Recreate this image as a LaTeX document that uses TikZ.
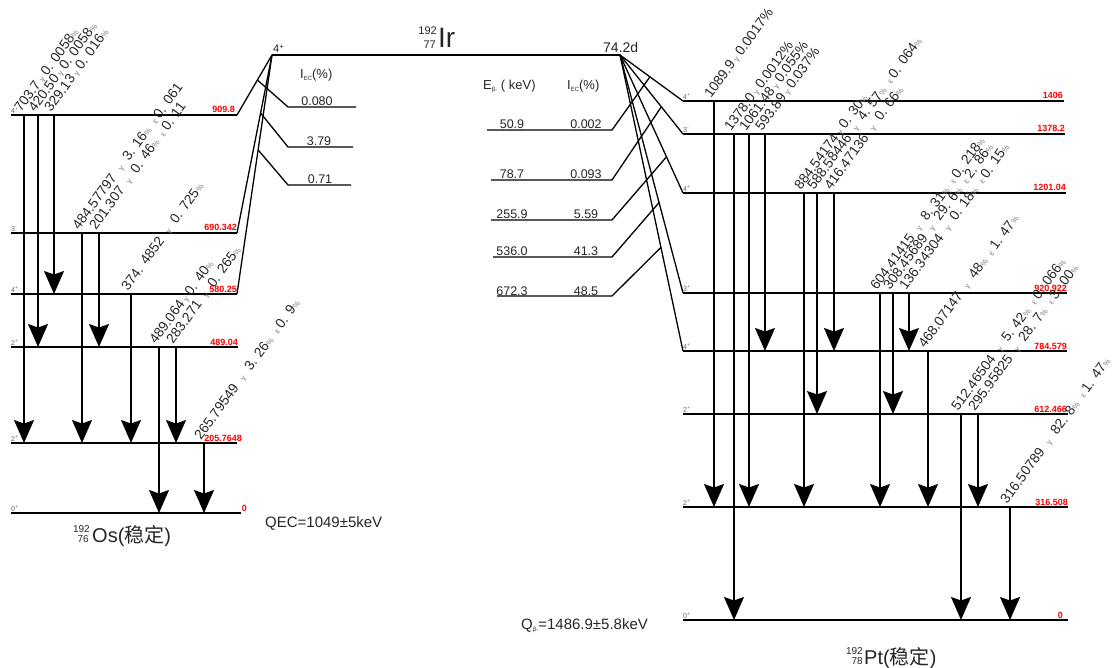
\documentclass[tikz,border=0pt]{standalone}
\usepackage{fontspec}
\setmainfont{Liberation Sans}
\newfontfamily\cjk{Noto Sans CJK SC}
\usetikzlibrary{arrows.meta,calc}
\newcommand\fsz[1]{\fontsize{#1}{#1}\selectfont}
\newcommand\gfnt{\color{black!50}\fsz{8}}
\newcommand\Gm[1][8pt]{\hspace{#1}{\gfnt γ}\hspace{#1}}
\newcommand\Ep{\hspace{7pt}{\gfnt ε}\hspace{3pt}}
\newcommand\Pc{{\gfnt\%}}
\newcommand\gline[4]{%
  \draw[gam] (#1,0 |- #2-L) -- (#1,0 |- #3-L);
  \path (#1,0 |- #2-L) ++(-3,-2) node[glab] (g#1) {#4};
}
\begin{document}
\begin{tikzpicture}[x=1pt,y=-1pt,
  lev/.style={line width=1.6pt},
  thinl/.style={line width=1.3pt},
  gam/.style={line width=1.3pt,-{Stealth[length=23pt,width=20pt,inset=3.5pt]}},
  glab/.style={rotate=54,anchor=base west,inner sep=0pt,font=\fsz{13.8},text=black!85},
  elab/.style={font=\bfseries\fsz{9},text=red,anchor=base east,inner sep=0pt},
  spin/.style={font=\fsz{7},text=black!60,anchor=base west,inner sep=0pt},
  tab/.style={font=\fsz{12.5},anchor=base,inner sep=0pt,text=black!85},
  txt/.style={anchor=base west,inner sep=0pt,text=black!85},
]
\useasboundingbox (0,0) rectangle (1113,668);

% ---------- parent 192Ir ----------
\coordinate (irL) at (272,55);
\coordinate (irR) at (620,55);
\draw[lev] (irL) -- (irR);
\node[txt,font=\fsz{11}] (irspin) at (273,53) {4\textsuperscript{+}};
\node[txt,font=\fsz{14}] (irhalf) at (603,53) {74.2d};
\node[txt,font=\fsz{28}] (irname) at (438,48) {Ir};
\node[anchor=base east,inner sep=0pt,font=\fsz{11},text=black!85] (irA) at (437,35) {192};
\node[anchor=base east,inner sep=0pt,font=\fsz{11},text=black!85] (irZ) at (436,49) {77};

% ---------- 192Os levels ----------
\foreach \n/\y/\xr/\s/\e/\ex in {
  o909/115/237/{4\textsuperscript{+}}/909.8/235,
  o690/233/237/{3\textsuperscript{-}}/690.342/237,
  o580/294/237/{4\textsuperscript{+}}/580.25/237,
  o489/347/238/{2\textsuperscript{+}}/489.04/238,
  o205/443/237/{2\textsuperscript{+}}/205.7648/242,
  o0/513/241/{0\textsuperscript{+}}/0/247}{
  \draw[lev] (11,\y) coordinate (\n-L) -- (\xr,\y) coordinate (\n-R);
  \node[spin] (\n-s) at (11,\y-1.5) {\s};
  \node[elab] (\n-e) at (\ex,\y-2) {\e};
}

% ---------- 192Pt levels ----------
\foreach \n/\y/\xr/\s/\e/\ex in {
  p1406/101/1064/{4\textsuperscript{+}}/1406/1063,
  p1378/134/1065/{3\textsuperscript{-}}/1378.2/1065,
  p1201/193/1066/{4\textsuperscript{+}}/1201.04/1066,
  p920/293/1067/{3\textsuperscript{+}}/920.922/1067,
  p784/351/1067/{4\textsuperscript{+}}/784.579/1067,
  p612/414/1068/{2\textsuperscript{+}}/612.466/1067,
  p316/507/1068/{2\textsuperscript{+}}/316.508/1068,
  p0/620/1068/{0\textsuperscript{+}}/0/1063}{
  \draw[lev] (683,\y) coordinate (\n-L) -- (\xr,\y) coordinate (\n-R);
  \node[spin] (\n-s) at (683,\y-1.5) {\s};
  \node[elab] (\n-e) at (\ex,\y-2) {\e};
}

% ---------- EC branches (left) ----------
\foreach \n in {o909,o690,o580} \draw[thinl] (irL) -- (\n-R);
\draw[thinl] ($(irL)!0.417!(o909-R)$) -- (288,107) coordinate (ec1) -- (356,107);
\draw[thinl] ($(irL)!0.326!(o690-R)$) -- (288,147) coordinate (ec2) -- (353,147);
\draw[thinl] ($(irL)!0.397!(o580-R)$) -- (288,185) coordinate (ec3) -- (351,185);
\node[tab] (ec1t) at (317,106) {0.080};
\node[tab] (ec2t) at (319,146) {3.79};
\node[tab] (ec3t) at (320,184) {0.71};
\node[txt,font=\fsz{13}] (ech) at (300,79) {I{\fsz{6}\raisebox{-2pt}{EC}}(\%)};

% ---------- beta- branches (right) ----------
\foreach \n in {p1406,p1378,p1201,p920,p784} \draw[thinl] (irR) -- (\n-L);
\foreach \y/\xs/\t/\n/\ea/\ia in {
  130/487/0.475/p1406/50.9/0.002,
  180/491/0.656/p1378/78.7/0.093,
  220/491/0.738/p1201/255.9/5.59,
  257/493/0.62/p920/536.0/41.3,
  296/497/0.65/p784/672.3/48.5}{
  \draw[thinl] (\xs,\y) -- (612,\y) -- ($(irR)!\t!(\n-L)$);
  \node[tab] at (512,\y-1) {\ea};
  \node[tab] at (586,\y-1) {\ia};
}
\node[txt,font=\fsz{13}] (bh1) at (483,90) {E{\fsz{6}\raisebox{-2pt}{β-}} ( keV)};
\node[txt,font=\fsz{13}] (bh2) at (567,90) {I{\fsz{6}\raisebox{-2pt}{EC}}(\%)};

% ---------- gamma transitions in 192Os ----------
\gline{24}{o909}{o205}{703.7\Gm[3pt]0. 0058\Pc}
\gline{38}{o909}{o489}{420.50\Gm[3pt]0. 0058\Pc}
\gline{54}{o909}{o580}{329.13\Gm[3pt]0. 016\Pc}
\gline{82}{o690}{o205}{484.57797\Gm 3. 16\Pc\Ep 0. 061}
\gline{99}{o690}{o489}{201.307\Gm 0. 46\Pc\Ep 0. 11}
\gline{131}{o580}{o205}{374. 4852\Gm 0. 725\Pc}
\gline{159}{o489}{o0}{489.064\Gm[3pt]0. 40\Pc}
\gline{176}{o489}{o205}{283.271\Gm 0. 265\Pc}
\gline{204}{o205}{o0}{265.79549\Gm 3. 26\Pc\Ep 0. 9\Pc}

% ---------- gamma transitions in 192Pt ----------
\gline{714}{p1406}{p316}{1089.9\Gm[3pt]0.0017\%}
\gline{734}{p1378}{p0}{1378.0\Gm[3pt]0.0012\%}
\gline{749}{p1378}{p316}{1061.48\Gm[3pt]0.055\%}
\gline{765}{p1378}{p784}{593.89\Gm[3pt]0.037\%}
\gline{804}{p1201}{p316}{884.54174\Gm[3pt]0. 30\Pc}
\gline{817}{p1201}{p612}{588.58446\Gm 4. 57\Pc\Ep 0. 064\Pc}
\gline{834}{p1201}{p784}{416.47136\Gm 0. 66\Pc}
\gline{880}{p920}{p316}{604.41415\Gm 8. 31\Pc\Ep 0. 218\Pc}
\gline{893}{p920}{p612}{308.45689\Gm 29. 6\Pc\Ep 2. 86\Pc}
\gline{909}{p920}{p784}{136.34304\Gm 0. 18\Pc\Ep 0. 15\Pc}
\gline{928}{p784}{p316}{468.07147\Gm 48\Pc\Ep 1. 47\Pc}
\gline{961}{p612}{p0}{512.46504\Gm 5. 42\Pc\Ep 0. 066\Pc}
\gline{978}{p612}{p316}{295.95825\Gm 28. 7\Pc\Ep 3. 00\Pc}
\gline{1010}{p316}{p0}{316.50789\Gm 82. 8\Pc\Ep 1. 47\Pc}

% ---------- daughter names and Q values ----------
\node[anchor=base east,inner sep=0pt,font=\fsz{10},text=black!85] (osA) at (90,532) {192};
\node[anchor=base east,inner sep=0pt,font=\fsz{10},text=black!85] (osZ) at (89,542) {76};
\node[txt,font=\fsz{20}] (osn) at (92,542) {Os({\cjk 稳定})};
\node[anchor=base east,inner sep=0pt,font=\fsz{10},text=black!85] (ptA) at (863,654) {192};
\node[anchor=base east,inner sep=0pt,font=\fsz{10},text=black!85] (ptZ) at (863,664) {78};
\node[txt,font=\fsz{20}] (ptn) at (864,664) {Pt({\cjk 稳定})};
\node[txt,font=\fsz{15}] (qec) at (265,527) {QEC=1049±5keV};
\node[txt,font=\fsz{15}] (qb) at (521,629) {Q{\fsz{6}\raisebox{-2pt}{β-}}=1486.9±5.8keV};
\end{tikzpicture}
\end{document}
